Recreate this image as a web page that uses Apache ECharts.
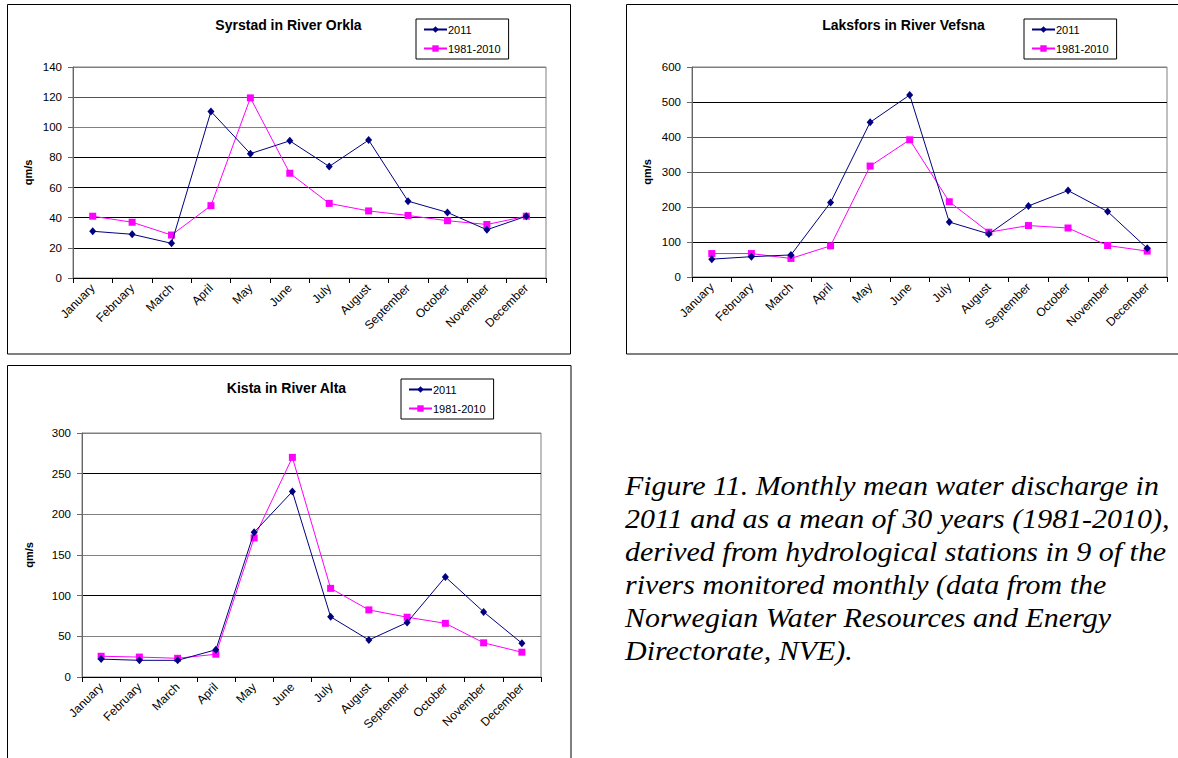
<!DOCTYPE html>
<html>
<head>
<meta charset="utf-8">
<script src="https://cdn.jsdelivr.net/npm/echarts@6/dist/echarts.min.js"></script>
<style>
html,body{margin:0;padding:0;background:#fff;overflow:hidden;}
#chart{position:absolute;left:0;top:0;width:1178px;height:758px;}
#caption{position:absolute;left:625px;top:469px;font-family:"Liberation Serif","Times New Roman",serif;font-style:italic;font-size:28px;line-height:33px;color:#000;white-space:nowrap;transform:scaleX(1.07);transform-origin:0 0;}
</style>
</head>
<body>
<div id="chart"></div>
<div id="caption">Figure 11. Monthly mean water discharge in<br>2011 and as a mean of 30 years (1981-2010),<br>derived from hydrological stations in 9 of the<br>rivers monitored monthly (data from the<br>Norwegian Water Resources and Energy<br>Directorate, NVE).</div>
<script>
const months = ['January','February','March','April','May','June','July','August','September','October','November','December'];
const seriesNames = ['2011','1981-2010'];

const orklaTitle = 'Syrstad in River Orkla';
const orkla2011 = [31, 29, 23, 110.5, 82.5, 91, 74, 91.5, 51, 43.5, 32, 41];
const orklaMean = [41, 37, 28.5, 48, 119.5, 69.5, 49.5, 44.5, 41.5, 38, 35.5, 41];

const vefsnaTitle = 'Laksfors in River Vefsna';
const vefsna2011 = [51, 58, 63, 213, 442, 520, 157, 123, 203, 247, 187, 82];
const vefsnaMean = [67, 67, 53, 89, 317, 392, 215, 128, 147, 140, 90, 74];

const altaTitle = 'Kista in River Alta';
const alta2011 = [22, 20.5, 20.5, 33.5, 178, 228, 74, 45.5, 67, 123, 80, 41.5];
const altaMean = [25.5, 24.5, 23, 28, 171, 270, 109, 82.5, 73.5, 66, 42, 30.5];

const orklaTicks = {min: 0, max: 140, interval: 20};
const vefsnaTicks = {min: 0, max: 600, interval: 100};
const altaTicks = {min: 0, max: 300, interval: 50};

const yName = 'qm/s';

const FONT = 'Liberation Sans, Arial, sans-serif';
const COL2011 = '#000080';
const COLMEAN = '#FF00FF';

const panels = [
  {title: orklaTitle, d1: orkla2011, d2: orklaMean, ticks: orklaTicks,
   grid: {left: 73, top: 67, width: 473, height: 211}, titlePos: [288.5, 18], legendPos: [416, 19], nameGap: 40,
   split: ['#000','#000','#000','#000','#000','#808080','#555','#808080']},
  {title: vefsnaTitle, d1: vefsna2011, d2: vefsnaMean, ticks: vefsnaTicks,
   grid: {left: 692, top: 67, width: 475, height: 210}, titlePos: [903.5, 18], legendPos: [1024, 19], nameGap: 40,
   split: ['#000','#000','#555','#555','#555','#000','#808080']},
  {title: altaTitle, d1: alta2011, d2: altaMean, ticks: altaTicks,
   grid: {left: 82, top: 433, width: 459, height: 244}, titlePos: [286.5, 381], legendPos: [401, 379], nameGap: 48,
   split: ['#000','#808080','#000','#808080','#808080','#000','#808080']}
];

const option = {
  animation: false,
  backgroundColor: '#fff',
  title: [], legend: [], grid: [], xAxis: [], yAxis: [], series: [],
  graphic: [
    {type: 'rect', shape: {x: 7.5, y: 4.5, width: 563, height: 349.5}, style: {fill: 'none', stroke: '#000', lineWidth: 1}, silent: true, z: -1},
    {type: 'rect', shape: {x: 626.5, y: 4.5, width: 600, height: 349.5}, style: {fill: 'none', stroke: '#000', lineWidth: 1}, silent: true, z: -1},
    {type: 'rect', shape: {x: 7.5, y: 365.5, width: 563.5, height: 500}, style: {fill: 'none', stroke: '#000', lineWidth: 1}, silent: true, z: -1}
  ]
};

panels.forEach((p, i) => {
  option.title.push({
    text: p.title, left: p.titlePos[0], top: p.titlePos[1], textAlign: 'center', padding: 0,
    textStyle: {fontFamily: FONT, fontSize: 14, fontWeight: 'bold', color: '#000'}
  });
  option.legend.push({
    data: seriesNames, left: p.legendPos[0], top: p.legendPos[1], orient: 'vertical',
    borderColor: '#000', borderWidth: 1, padding: [5, 8, 5, 7], itemGap: 8,
    itemWidth: 23, itemHeight: 8, selectedMode: false,
    textStyle: {fontFamily: FONT, fontSize: 11, color: '#000', padding: [0, 0, 0, -4]}
  });
  option.grid.push(Object.assign({show: true, borderColor: '#808080', borderWidth: 1, backgroundColor: '#fff', containLabel: false}, p.grid));
  option.xAxis.push({
    type: 'category', gridIndex: i, data: months, boundaryGap: true,
    axisLine: {lineStyle: {color: '#000', width: 1}},
    axisTick: {show: true, length: 5, lineStyle: {color: '#000'}},
    axisLabel: {rotate: 45, fontFamily: FONT, fontSize: 12, color: '#000', margin: 8, interval: 0},
    splitLine: {show: false}
  });
  option.yAxis.push({
    type: 'value', gridIndex: i, min: p.ticks.min, max: p.ticks.max, interval: p.ticks.interval,
    name: yName, nameLocation: 'middle', nameGap: p.nameGap, nameRotate: 90,
    nameTextStyle: {fontFamily: FONT, fontSize: 11, fontWeight: 'bold', color: '#000'},
    axisLine: {show: true, lineStyle: {color: '#666', width: 1}},
    axisTick: {show: true, length: 5, lineStyle: {color: '#666'}},
    axisLabel: {fontFamily: FONT, fontSize: 11.5, color: '#000', margin: 11},
    splitLine: {show: true, lineStyle: {color: p.split, width: 1}}
  });
  option.series.push({
    name: seriesNames[0], type: 'line', xAxisIndex: i, yAxisIndex: i, data: p.d1,
    symbol: 'diamond', symbolSize: [7, 8], showAllSymbol: true,
    lineStyle: {color: COL2011, width: 1}, itemStyle: {color: COL2011}, z: 3
  });
  option.series.push({
    name: seriesNames[1], type: 'line', xAxisIndex: i, yAxisIndex: i, data: p.d2,
    symbol: 'rect', symbolSize: 7, showAllSymbol: true,
    lineStyle: {color: COLMEAN, width: 1}, itemStyle: {color: COLMEAN}, z: 2
  });
});

const chart = echarts.init(document.getElementById('chart'), null, {renderer: 'svg'});
chart.setOption(option);
</script>
</body>
</html>
